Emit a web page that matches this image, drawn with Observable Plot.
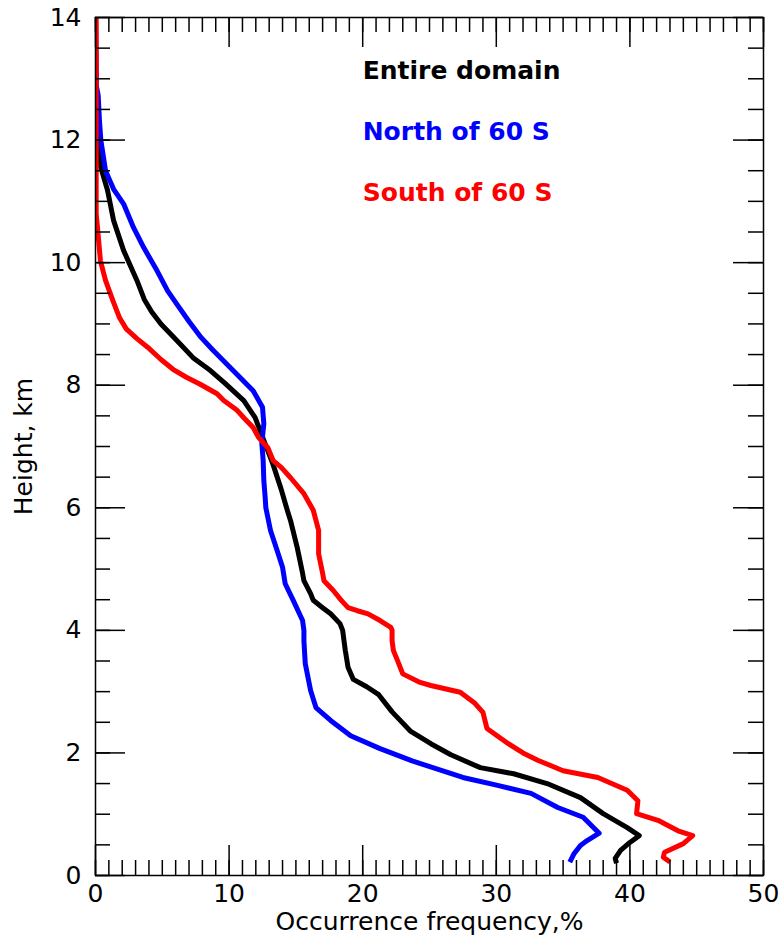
<!DOCTYPE html>
<html>
<head>
<meta charset="utf-8">
<script src="https://cdn.jsdelivr.net/npm/d3@7"></script>
<script src="https://cdn.jsdelivr.net/npm/@observablehq/plot@0.6"></script>
<style>
  body { margin: 0; background: #fff; }
  #chart svg { display: block; }
</style>
</head>
<body>
<div id="chart"></div>
<script>
// Occurrence frequency (%) versus height (km), pairs of [frequency, height]
const entireDomain = [
  [0, 14], [0.05, 12.6], [0.2, 12.0], [0.28, 11.78], [0.4, 11.55], [0.9, 11.18],
  [1.35, 10.69], [2.1, 10.2], [3.1, 9.71], [3.65, 9.4], [4.2, 9.2], [4.9, 9.0],
  [6.0, 8.75], [7.3, 8.45], [8.6, 8.24], [9.7, 8.03], [11.1, 7.75], [11.95, 7.47],
  [12.6, 7.1], [13.3, 6.7], [13.9, 6.3], [14.3, 6.0], [14.6, 5.79], [15.1, 5.35],
  [15.5, 4.93], [15.6, 4.81], [16.1, 4.6], [16.3, 4.49], [17.0, 4.37], [17.6, 4.27],
  [18.3, 4.11], [18.5, 4.0], [18.6, 3.83], [18.7, 3.67], [18.9, 3.4], [19.3, 3.2],
  [20.3, 3.08], [21.2, 2.95], [22.2, 2.67], [23.6, 2.35], [25.1, 2.15], [26.6, 1.97],
  [28.8, 1.76], [31.3, 1.66], [33.8, 1.5], [36.3, 1.27], [38.0, 1.01], [39.8, 0.78],
  [40.7, 0.65], [40.0, 0.54], [39.3, 0.41], [38.9, 0.28], [39.0, 0.2]
];

const northOf60S = [
  [0, 14], [0.05, 12.9], [0.2, 12.73], [0.3, 12.3], [0.4, 12.0], [0.75, 11.5],
  [1.35, 11.2], [2.1, 10.96], [2.85, 10.57], [3.6, 10.25], [4.6, 9.87], [5.4, 9.54],
  [6.1, 9.32], [7.0, 9.04], [7.9, 8.78], [8.8, 8.57], [10.3, 8.24],
  [11.8, 7.91], [12.5, 7.64], [12.6, 7.37], [12.45, 7.05], [12.55, 6.77], [12.6, 6.44],
  [12.7, 6.17], [12.75, 6.0], [13.1, 5.63], [13.6, 5.3], [14.0, 5.03], [14.2, 4.76],
  [14.8, 4.49], [15.5, 4.16], [15.6, 4.0], [15.6, 3.83], [15.7, 3.46], [16.1, 3.02],
  [16.5, 2.74], [17.6, 2.53], [19.1, 2.28], [21.3, 2.07], [23.7, 1.87], [27.5, 1.6],
  [30.1, 1.47], [32.6, 1.34], [34.6, 1.11], [36.5, 0.95], [37.7, 0.69], [36.8, 0.57],
  [36.3, 0.49], [35.8, 0.35], [35.5, 0.22]
];

const southOf60S = [
  [0.05, 14], [0.05, 10.8], [0.15, 10.57], [0.37, 10.03], [0.75, 9.71], [1.3, 9.38],
  [1.8, 9.1], [2.3, 8.92], [3.1, 8.76], [3.9, 8.62], [4.9, 8.42], [5.8, 8.26],
  [6.8, 8.13], [7.8, 8.02], [9.1, 7.86], [9.6, 7.75], [10.6, 7.59], [11.1, 7.47],
  [11.8, 7.31], [12.2, 7.15], [12.9, 6.98], [13.3, 6.77], [13.9, 6.66], [14.6, 6.49],
  [15.6, 6.23], [16.3, 5.96], [16.7, 5.63], [16.7, 5.25], [17.0, 4.93], [17.1, 4.81],
  [17.8, 4.65], [18.4, 4.49], [18.9, 4.37], [19.6, 4.32], [20.4, 4.27], [21.3, 4.16],
  [22.1, 4.05], [22.2, 4.0], [22.2, 3.83], [22.3, 3.67], [22.6, 3.51], [23.0, 3.29],
  [24.3, 3.15], [25.1, 3.1], [27.3, 2.99], [28.4, 2.81], [29.0, 2.66], [29.3, 2.4],
  [30.9, 2.15], [32.0, 2.0], [33.1, 1.88], [35.0, 1.71], [37.6, 1.6], [39.8, 1.39],
  [40.6, 1.22], [40.5, 1.01], [42.1, 0.9], [43.6, 0.73], [44.7, 0.65], [44.0, 0.52],
  [42.6, 0.38], [42.5, 0.3], [43.0, 0.22]
];

const seriesNames = ["Entire domain", "North of 60 S", "South of 60 S"];
const seriesColors = ["#000000", "#0000ff", "#ff0000"];

const xMajorTicks = [0, 10, 20, 30, 40, 50];
const xMinorTicks = d3.range(0, 51, 1);
const yMajorTicks = [0, 2, 4, 6, 8, 10, 12, 14];
const yMinorTicks = d3.range(0, 14.01, 0.5);

const W = 782, H = 940;
const margin = {top: 17, right: 19, bottom: 65, left: 95};
const innerW = W - margin.left - margin.right;
const innerH = H - margin.top - margin.bottom;
const minorLen = 15, majorLen = 30;
const font = "DejaVu Sans";
const fs = 25;

const series = [entireDomain, northOf60S, southOf60S];

const chart = Plot.plot({
  width: W,
  height: H,
  marginTop: margin.top,
  marginRight: margin.right,
  marginBottom: margin.bottom,
  marginLeft: margin.left,
  style: {fontFamily: font, fontSize: `${fs}px`, background: "#fff", color: "#000"},
  x: {domain: [0, 50]},
  y: {domain: [0, 14]},
  marks: [
    // profiles
    ...series.map((s, i) => Plot.line(s, {
      x: d => d[0], y: d => d[1],
      stroke: seriesColors[i], strokeWidth: 5,
      strokeLinejoin: "round", strokeLinecap: "butt",
      clip: true
    })),
    // inward ticks on all four sides
    Plot.ruleX(xMinorTicks, {x: d => d, insetTop: innerH - minorLen, strokeWidth: 1.5}),
    Plot.ruleX(xMajorTicks, {x: d => d, insetTop: innerH - majorLen, strokeWidth: 1.5}),
    Plot.ruleX(xMinorTicks, {x: d => d, insetBottom: innerH - minorLen, strokeWidth: 1.5}),
    Plot.ruleX(xMajorTicks, {x: d => d, insetBottom: innerH - majorLen, strokeWidth: 1.5}),
    Plot.ruleY(yMinorTicks, {y: d => d, insetRight: innerW - minorLen, strokeWidth: 1.5}),
    Plot.ruleY(yMajorTicks, {y: d => d, insetRight: innerW - majorLen, strokeWidth: 1.5}),
    Plot.ruleY(yMinorTicks, {y: d => d, insetLeft: innerW - minorLen, strokeWidth: 1.5}),
    Plot.ruleY(yMajorTicks, {y: d => d, insetLeft: innerW - majorLen, strokeWidth: 1.5}),
    Plot.frame({stroke: "#000", strokeWidth: 1.5}),
    // tick labels
    Plot.axisX({ticks: xMajorTicks, tickSize: 0, tickPadding: 9, label: null, fontSize: fs}),
    Plot.axisY({ticks: yMajorTicks, tickSize: 0, tickPadding: 14, label: null, fontSize: fs}),
    // axis titles
    Plot.text(["Occurrence frequency,%"], {
      frameAnchor: "bottom", dy: 46, lineAnchor: "middle", textAnchor: "middle",
      fontSize: fs, fill: "#000"
    }),
    Plot.text(["Height, km"], {
      frameAnchor: "left", dx: -72, rotate: -90, lineAnchor: "middle", textAnchor: "middle",
      fontSize: fs, fill: "#000"
    }),
    // series labels
    Plot.text(seriesNames, {
      x: () => 20, y: (d, i) => 13 - i, dy: -8,
      text: d => d, fill: (d, i) => seriesColors[i],
      textAnchor: "start", lineAnchor: "middle",
      fontSize: fs, fontWeight: "bold"
    })
  ]
});

document.getElementById("chart").appendChild(chart);
</script>
</body>
</html>
